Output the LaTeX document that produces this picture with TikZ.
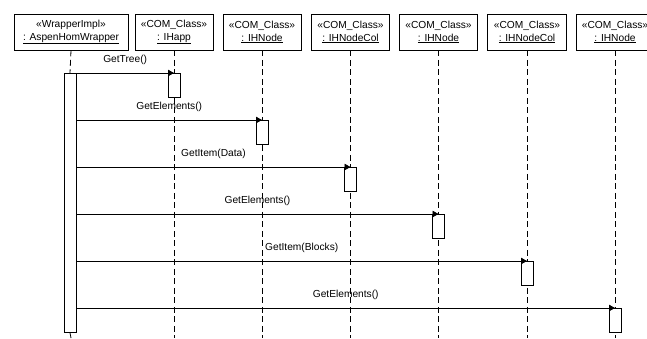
\documentclass[tikz,border=0pt]{standalone}
\usepackage{fontspec}
\setmainfont{Liberation Sans}
\usetikzlibrary{arrows.meta}
\begin{document}
\begin{tikzpicture}[x=1pt,y=-1pt,line width=0.8pt,
  obj/.style={draw,fill=white,minimum height=36pt,inner sep=0pt,align=center,
    font=\fontsize{10.2}{13}\selectfont},
  life/.style={draw,dash pattern=on 6pt off 3.5pt},
  actbox/.style={draw,fill=white,minimum width=12pt,minimum height=24pt,inner sep=0pt,anchor=north},
  msg/.style={-{Triangle[length=6pt,width=6.5pt]}},
  lbl/.style={font=\fontsize{10.2}{12}\selectfont,inner sep=0pt}]
\useasboundingbox (0,0) rectangle (647,338);
% objects
\node[obj,minimum width=114pt] (b1) at (71,32) {«WrapperImpl»\\\underline{: AspenHomWrapper}};
\node[obj,minimum width=78pt] (b2) at (174,32) {«COM\_Class»\\\underline{: IHapp}};
\node[obj,minimum width=78pt] (b3) at (262,32) {«COM\_Class»\\\underline{: IHNode}};
\node[obj,minimum width=78pt] (b4) at (350.5,32) {«COM\_Class»\\\underline{: IHNodeCol}};
\node[obj,minimum width=78pt] (b5) at (438.5,32) {«COM\_Class»\\\underline{: IHNode}};
\node[obj,minimum width=79pt] (b6) at (527,32) {«COM\_Class»\\\underline{: IHNodeCol}};
\node[obj,minimum width=78pt] (b7) at (615,32) {«COM\_Class»\\\underline{: IHNode}};
% bottom coordinates
\foreach \i in {1,...,7} { \coordinate (e\i) at (b\i.south |- 0,338); }
% lifelines
\foreach \i in {2,...,7} { \draw[life] (b\i.south) -- (e\i); }
% caller activation
\node[draw,fill=white,minimum width=12pt,minimum height=259pt,inner sep=0pt,anchor=north] (act) at (70,73) {};
\draw[life] (b1.south) -- (act.north);
\draw[life] (act.south) -- (e1);
% callee activations
\node[actbox] (a2) at (174,73) {};
\node[actbox] (a3) at (262,120) {};
\node[actbox] (a4) at (350.5,167) {};
\node[actbox] (a5) at (438.5,214) {};
\node[actbox] (a6) at (527,261) {};
\node[actbox] (a7) at (615,308) {};
% messages
\foreach \i/\t in {2/GetTree(),3/GetElements(),4/GetItem(Data),5/GetElements(),6/GetItem(Blocks),7/GetElements()} {
  \draw[msg] (act.east |- a\i.north) -- node[lbl,yshift=13pt] (m\i) {\t} (a\i.north);
}
\end{tikzpicture}
\end{document}
